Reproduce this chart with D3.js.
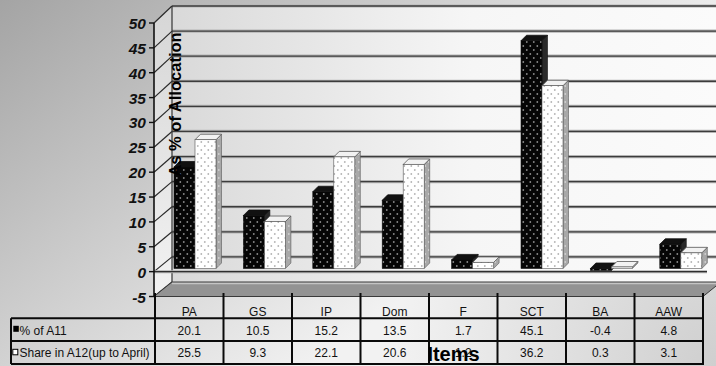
<!DOCTYPE html>
<html>
<head>
<meta charset="utf-8">
<script src="https://cdn.jsdelivr.net/npm/d3@7/dist/d3.min.js"></script>
<style>
  html, body { margin: 0; padding: 0; background: #fff; }
  svg { display: block; font-family: "Liberation Sans", Arial, sans-serif; }
</style>
</head>
<body>
<svg id="chart" width="716" height="366"></svg>
<script>
// ---- data ----
const categories = ["PA", "GS", "IP", "Dom", "F", "SCT", "BA", "AAW"];
const seriesNames = ["% of A11", "Share in A12(up to April)"];
const shareA11 = [20.1, 10.5, 15.2, 13.5, 1.7, 45.1, -0.4, 4.8];
const shareA12 = [25.5, 9.3, 22.1, 20.6, 1.2, 36.2, 0.3, 3.1];
const yTicks = [-5, 0, 5, 10, 15, 20, 25, 30, 35, 40, 45, 50];
const yTitle = "As % of Allocation";
const xTitle = "Items";

const svg = d3.select("#chart");
const defs = svg.append("defs");

// ---- scales ----
const yFront = d3.scaleLinear().domain([-5, 50]).range([296.5, 23]);   // front (labelled) axis
const yBack  = d3.scaleLinear().domain([-5, 50]).range([282, 6]);      // back wall gridlines
const yBar   = d3.scaleLinear().domain([0, 50]).range([268.5, 16]);    // column heights
const xCol   = d3.scaleBand().domain(categories).range([155, 703]);    // table columns
const xBar   = d3.scaleBand().domain(categories).range([160.3, 715.5]);
const xSub   = d3.scaleBand().domain([0, 1]).range([0, 42]);
const depth = { x: 18 };            // wall depth offset
const barD = 5.5;                   // column depth offset
const wallLeft = 172, frontLeft = 154, frontRight = 703;

// ---- gradients & patterns ----
const bg = defs.append("linearGradient").attr("id", "bg")
  .attr("gradientUnits", "userSpaceOnUse").attr("x1", 0).attr("y1", 0).attr("x2", 300).attr("y2", 380);
bg.append("stop").attr("offset", 0).attr("stop-color", "#a4a4a4");
bg.append("stop").attr("offset", 1).attr("stop-color", "#f2f2f2");

const corner = defs.append("radialGradient").attr("id", "corner")
  .attr("gradientUnits", "userSpaceOnUse").attr("cx", 716).attr("cy", 366).attr("r", 320);
corner.append("stop").attr("offset", 0).attr("stop-color", "#9a9a9a").attr("stop-opacity", 0.4);
corner.append("stop").attr("offset", 1).attr("stop-color", "#9a9a9a").attr("stop-opacity", 0);

const wall = defs.append("linearGradient").attr("id", "wall")
  .attr("x1", 0).attr("y1", 0).attr("x2", 1).attr("y2", 0);
wall.append("stop").attr("offset", 0).attr("stop-color", "#d9d9d9");
wall.append("stop").attr("offset", 0.55).attr("stop-color", "#f6f6f6");
wall.append("stop").attr("offset", 1).attr("stop-color", "#fbfbfb");

const side = defs.append("linearGradient").attr("id", "side")
  .attr("x1", 0).attr("y1", 0).attr("x2", 0).attr("y2", 1);
side.append("stop").attr("offset", 0).attr("stop-color", "#d6d6d6");
side.append("stop").attr("offset", 1).attr("stop-color", "#f2f2f2");

function dots(id, base, dot) {
  const p = defs.append("pattern").attr("id", id)
    .attr("patternUnits", "userSpaceOnUse").attr("width", 7).attr("height", 8);
  p.append("rect").attr("width", 7).attr("height", 8).attr("fill", base);
  p.append("circle").attr("cx", 1.8).attr("cy", 2).attr("r", 0.9).attr("fill", dot);
  p.append("circle").attr("cx", 5.3).attr("cy", 6).attr("r", 0.9).attr("fill", dot);
}
dots("darkDots", "#060606", "#8a8a8a");
dots("lightDots", "#ffffff", "#b4b4b4");
dots("sideDots", "#a8a8a8", "#d0d0d0");

// ---- background ----
svg.append("rect").attr("width", 716).attr("height", 366).attr("fill", "url(#bg)");
svg.append("rect").attr("width", 716).attr("height", 366).attr("fill", "url(#corner)");

// ---- back wall ----
svg.append("rect").attr("x", wallLeft).attr("y", yBack(50))
  .attr("width", 716 - wallLeft).attr("height", yBack(-5) - yBack(50))
  .attr("fill", "url(#wall)");

// ---- side wall ----
svg.append("polygon")
  .attr("points", [[frontLeft, yFront(50)], [wallLeft, yBack(50)], [wallLeft, yBack(-5)], [frontLeft, yFront(-5)]].join(" "))
  .attr("fill", "url(#side)");

// ---- gridlines (back wall + side wall) ----
const grid = svg.append("g");
yTicks.filter(v => v >= 0).forEach(v => {
  grid.append("line").attr("x1", wallLeft).attr("x2", 716).attr("y1", yBack(v)).attr("y2", yBack(v))
    .attr("stroke", "#b4b4b4").attr("stroke-width", 3.2);
  grid.append("line").attr("x1", wallLeft).attr("x2", 716).attr("y1", yBack(v)).attr("y2", yBack(v))
    .attr("stroke", "#3c3c3c").attr("stroke-width", 1.3);
});
yTicks.forEach(v => {
  grid.append("line").attr("x1", frontLeft).attr("y1", yFront(v)).attr("x2", wallLeft).attr("y2", yBack(v))
    .attr("stroke", "#2a2a2a").attr("stroke-width", 1.2);
});
grid.append("line").attr("x1", wallLeft).attr("x2", wallLeft).attr("y1", yBack(50)).attr("y2", yBack(-5))
  .attr("stroke", "#333").attr("stroke-width", 1.2);

// ---- floor ----
svg.append("polygon")
  .attr("points", [[frontLeft, yFront(-5)], [wallLeft, yBack(-5)], [frontRight + depth.x, yBack(-5)], [frontRight, yFront(-5)]].join(" "))
  .attr("fill", "#939393").attr("stroke", "#3a3a3a").attr("stroke-width", 1);
svg.append("line").attr("x1", wallLeft).attr("x2", frontRight + depth.x)
  .attr("y1", yBack(-5) + 1.5).attr("y2", yBack(-5) + 1.5)
  .attr("stroke", "#c4c4c4").attr("stroke-width", 1.5);

// ---- category axis line at zero ----
svg.append("line").attr("x1", frontLeft).attr("x2", frontRight + 4)
  .attr("y1", yFront(0)).attr("y2", yFront(0))
  .attr("stroke", "#b0b0b0").attr("stroke-width", 3);
svg.append("line").attr("x1", frontLeft).attr("x2", frontRight + 4)
  .attr("y1", yFront(0)).attr("y2", yFront(0))
  .attr("stroke", "#2e2e2e").attr("stroke-width", 1.4);

// ---- columns ----
const seriesVals = [shareA11, shareA12];
const styles = [
  { front: "url(#darkDots)", top: "#111", side: "#2a2a2a", stroke: "#111" },
  { front: "url(#lightDots)", top: "#f2f2f2", side: "url(#sideDots)", stroke: "#555" }
];
const bars = svg.append("g");
categories.forEach((c, i) => {
  const cx = xBar(c) + xBar.bandwidth() / 2;
  [0, 1].forEach(s => {
    const v = seriesVals[s][i];
    const st = styles[s];
    const x = cx - 21 + xSub(s), w = xSub.bandwidth();
    const top = yBar(Math.max(v, 0)), bot = yBar(Math.min(v, 0));
    const g = bars.append("g");
    g.append("polygon")
      .attr("points", [[x + w, top], [x + w + barD, top - barD], [x + w + barD, bot - barD], [x + w, bot]].join(" "))
      .attr("fill", st.side).attr("stroke", st.stroke).attr("stroke-width", 0.6);
    g.append("polygon")
      .attr("points", [[x, top], [x + barD, top - barD], [x + w + barD, top - barD], [x + w, top]].join(" "))
      .attr("fill", st.top).attr("stroke", st.stroke).attr("stroke-width", 0.8);
    g.append("rect").attr("x", x).attr("y", top).attr("width", w).attr("height", Math.max(bot - top, 0.5))
      .attr("fill", st.front).attr("stroke", st.stroke).attr("stroke-width", 0.6);
  });
});

// ---- value axis ----
const ax = svg.append("g");
ax.append("line").attr("x1", frontLeft).attr("x2", frontLeft).attr("y1", yFront(50)).attr("y2", yFront(-5))
  .attr("stroke", "#111").attr("stroke-width", 1.6);
yTicks.forEach(v => {
  ax.append("line").attr("x1", frontLeft - 5).attr("x2", frontLeft).attr("y1", yFront(v)).attr("y2", yFront(v))
    .attr("stroke", "#111").attr("stroke-width", 1.4);
  ax.append("text").attr("x", 146).attr("y", yFront(v) + 6)
    .attr("text-anchor", "end").attr("font-size", 15.5).attr("font-weight", "bold").attr("font-style", "italic")
    .attr("fill", "#111").text(v);
});

// ---- data table ----
const table = svg.append("g");
const rowLines = [318.3, 341, 364];
const tableLeft = 11;
const lineStyle = sel => sel.attr("stroke", "#0a0a0a").attr("stroke-width", 2);
xCol.domain().concat(["__end"]).forEach((c, k) => {
  const x = k < categories.length ? xCol(c) : xCol.range()[1];
  table.append("line").attr("x1", x).attr("x2", x).attr("y1", 293).attr("y2", 365).call(lineStyle);
});
rowLines.forEach(y => {
  table.append("line").attr("x1", tableLeft).attr("x2", xCol.range()[1] + 1).attr("y1", y).attr("y2", y).call(lineStyle);
});
table.append("line").attr("x1", tableLeft).attr("x2", tableLeft).attr("y1", rowLines[0]).attr("y2", rowLines[2]).call(lineStyle);

categories.forEach(c => {
  table.append("text").attr("x", xCol(c) + xCol.bandwidth() / 2).attr("y", 316)
    .attr("text-anchor", "middle").attr("font-size", 12).attr("fill", "#111").text(c);
});
const rowBase = [335, 357];
seriesVals.forEach((vals, s) => {
  vals.forEach((v, i) => {
    table.append("text").attr("x", xCol(categories[i]) + xCol.bandwidth() / 2).attr("y", rowBase[s])
      .attr("text-anchor", "middle").attr("font-size", 12).attr("fill", "#111").text(v.toFixed(1));
  });
});
// legend keys in the row headers
table.append("rect").attr("x", 13.3).attr("y", 325.8).attr("width", 5.5).attr("height", 6).attr("fill", "#000");
table.append("rect").attr("x", 12.8).attr("y", 349.3).attr("width", 5).attr("height", 5.5)
  .attr("fill", "#fff").attr("stroke", "#000").attr("stroke-width", 1);
seriesNames.forEach((n, s) => {
  table.append("text").attr("x", 19.5).attr("y", rowBase[s]).attr("font-size", 12).attr("fill", "#111").text(n);
});

// ---- axis titles ----
svg.append("text").attr("transform", "translate(180.5,104.5) rotate(-90)")
  .attr("text-anchor", "middle").attr("font-size", 16.5).attr("font-weight", "bold").attr("fill", "#000")
  .text(yTitle);
svg.append("text").attr("x", 453.5).attr("y", 361)
  .attr("text-anchor", "middle").attr("font-size", 20).attr("font-weight", "bold").attr("fill", "#000")
  .text(xTitle);
</script>
</body>
</html>
